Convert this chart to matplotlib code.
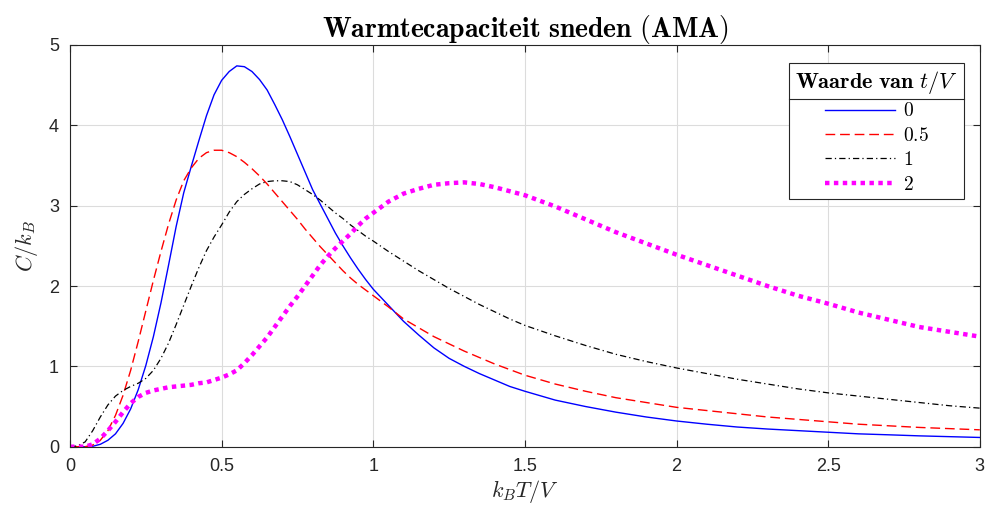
import matplotlib
matplotlib.use('Agg')
import matplotlib.pyplot as plt
from matplotlib.lines import Line2D

plt.rcParams['font.family'] = ['Liberation Sans', 'DejaVu Sans']
plt.rcParams['mathtext.fontset'] = 'cm'

# k_B T / V
x = [0, 0.025, 0.05, 0.075, 0.1, 0.125, 0.15, 0.175, 0.2, 0.225, 0.25, 0.275, 0.3,
     0.325, 0.35, 0.375, 0.4, 0.425, 0.45, 0.475, 0.5, 0.525, 0.55, 0.575, 0.6,
     0.625, 0.65, 0.675, 0.7, 0.725, 0.75, 0.775, 0.8, 0.825, 0.85, 0.875, 0.9,
     0.925, 0.95, 0.975, 1.0,
     1.05, 1.1, 1.15, 1.2, 1.25, 1.3, 1.35, 1.4, 1.45, 1.5,
     1.6, 1.7, 1.8, 1.9, 2.0, 2.1, 2.2, 2.3, 2.4, 2.5, 2.6, 2.7, 2.8, 2.9, 3.0]

# C / k_B voor t/V = 0, 0.5, 1, 2
c_t0 = [0, 0, 0, 0.005, 0.03, 0.08, 0.16, 0.29, 0.47, 0.71, 1.01, 1.37, 1.79,
        2.26, 2.74, 3.16, 3.49, 3.81, 4.12, 4.38, 4.56, 4.67, 4.74, 4.73, 4.67,
        4.57, 4.44, 4.26, 4.07, 3.86, 3.64, 3.42, 3.2, 3.02, 2.84, 2.66, 2.5,
        2.35, 2.21, 2.08, 1.96,
        1.76, 1.56, 1.39, 1.23, 1.1, 1.0, 0.91, 0.83, 0.75, 0.69,
        0.58, 0.5, 0.43, 0.37, 0.32, 0.28, 0.245, 0.22, 0.2, 0.18, 0.16, 0.148, 0.135, 0.125, 0.115]
c_t05 = [0, 0, 0, 0.02, 0.08, 0.2, 0.39, 0.64, 0.95, 1.31, 1.69, 2.07, 2.43,
         2.77, 3.07, 3.31, 3.47, 3.59, 3.66, 3.69, 3.69, 3.66, 3.61, 3.54, 3.46,
         3.37, 3.27, 3.16, 3.05, 2.94, 2.83, 2.71, 2.6, 2.49, 2.39, 2.29, 2.19,
         2.1, 2.02, 1.95, 1.88,
         1.74, 1.59, 1.48, 1.37, 1.28, 1.19, 1.11, 1.03, 0.96, 0.89,
         0.78, 0.69, 0.61, 0.55, 0.49, 0.45, 0.41, 0.37, 0.34, 0.31, 0.28, 0.26, 0.24, 0.225, 0.21]
c_t1 = [0, 0.01, 0.06, 0.2, 0.37, 0.52, 0.63, 0.7, 0.75, 0.79, 0.85, 0.95, 1.1,
        1.29, 1.52, 1.76, 2.0, 2.23, 2.44, 2.61, 2.76, 2.92, 3.05, 3.14, 3.21,
        3.27, 3.3, 3.31, 3.31, 3.3, 3.26, 3.2, 3.14, 3.07, 2.99, 2.91, 2.84,
        2.76, 2.69, 2.62, 2.56,
        2.43, 2.31, 2.19, 2.08, 1.97, 1.87, 1.77, 1.68, 1.59, 1.51,
        1.38, 1.26, 1.15, 1.06, 0.98, 0.91, 0.84, 0.78, 0.72, 0.67, 0.63, 0.59, 0.55, 0.51, 0.48]
c_t2 = [0, 0, 0, 0.03, 0.1, 0.2, 0.31, 0.43, 0.54, 0.62, 0.67, 0.7, 0.72,
        0.74, 0.75, 0.76, 0.77, 0.79, 0.8, 0.83, 0.86, 0.9, 0.95, 1.04, 1.14,
        1.25, 1.36, 1.49, 1.62, 1.75, 1.87, 2.0, 2.13, 2.26, 2.37, 2.47, 2.56,
        2.65, 2.75, 2.84, 2.91,
        3.05, 3.15, 3.21, 3.26, 3.28, 3.29, 3.27, 3.23, 3.18, 3.13,
        2.99, 2.83, 2.67, 2.53, 2.39, 2.26, 2.13, 2.0, 1.88, 1.78, 1.67, 1.58, 1.49, 1.43, 1.37]

labels = [r'$0$', r'$0.5$', r'$1$', r'$2$']

fig = plt.figure(figsize=(9.9, 5.16), dpi=100)
ax = fig.add_axes([0.0707, 0.1343, 0.919, 0.7785])

ax.plot(x, c_t0, color='#0000ff', lw=1.0, label=labels[0])
ax.plot(x, c_t05, color='#ff0000', lw=1.0, dashes=(7, 3.5), label=labels[1])
ax.plot(x, c_t1, color='#000000', lw=0.9, dashes=(5, 2.5, 1, 2.5), label=labels[2])
ax.plot(x, c_t2, color='#ff00ff', lw=3.2, dashes=(1, 1), dash_capstyle='butt',
        label=labels[3])

ax.set_xlim(0, 3)
ax.set_ylim(0, 5)
ax.set_xticks([0, 0.5, 1, 1.5, 2, 2.5, 3])
ax.set_xticklabels(['0', '0.5', '1', '1.5', '2', '2.5', '3'])
ax.set_yticks([0, 1, 2, 3, 4, 5])
ax.grid(True, color='#dcdcdc', lw=0.8)
ax.set_axisbelow(True)
ax.tick_params(direction='in', top=True, right=True, labelsize=13,
               colors='#262626', length=5, width=0.8, pad=8)
for s in ax.spines.values():
    s.set_color('#262626')
    s.set_linewidth(0.8)

ax.set_title(r'$\mathbf{Warmtecapaciteit\ sneden\ (AMA)}$', fontsize=20, pad=6)
ax.set_xlabel(r'$k_BT/V$', fontsize=16, color='#262626', labelpad=2)
ax.set_ylabel(r'$C/k_B$', fontsize=16, color='#262626', labelpad=6)

leg = ax.legend(title=r'$\mathbf{Waarde\ van}\ t/V$', loc='upper right',
                bbox_to_anchor=(0.9824, 0.955), borderaxespad=0,
                fontsize=14, title_fontsize=16,
                handlelength=3.6, handletextpad=0.4, labelspacing=0.33,
                borderpad=0.3, fancybox=False, framealpha=1, edgecolor='#262626')
leg.get_frame().set_linewidth(0.8)
leg._legend_box.align = 'center'

# scheidingslijn onder de legendatitel
fig.canvas.draw()
fr = leg.get_frame().get_window_extent()
tb = leg.get_title().get_window_extent()
inv = fig.transFigure.inverted()
(x0, y_line), = inv.transform([(fr.x0, tb.y0 - 3)])
(x1, _), = inv.transform([(fr.x1, tb.y0 - 3)])
fig.add_artist(Line2D([x0, x1], [y_line, y_line], color='#262626', lw=0.8,
                      transform=fig.transFigure))

fig.savefig('out.png', dpi=100)
